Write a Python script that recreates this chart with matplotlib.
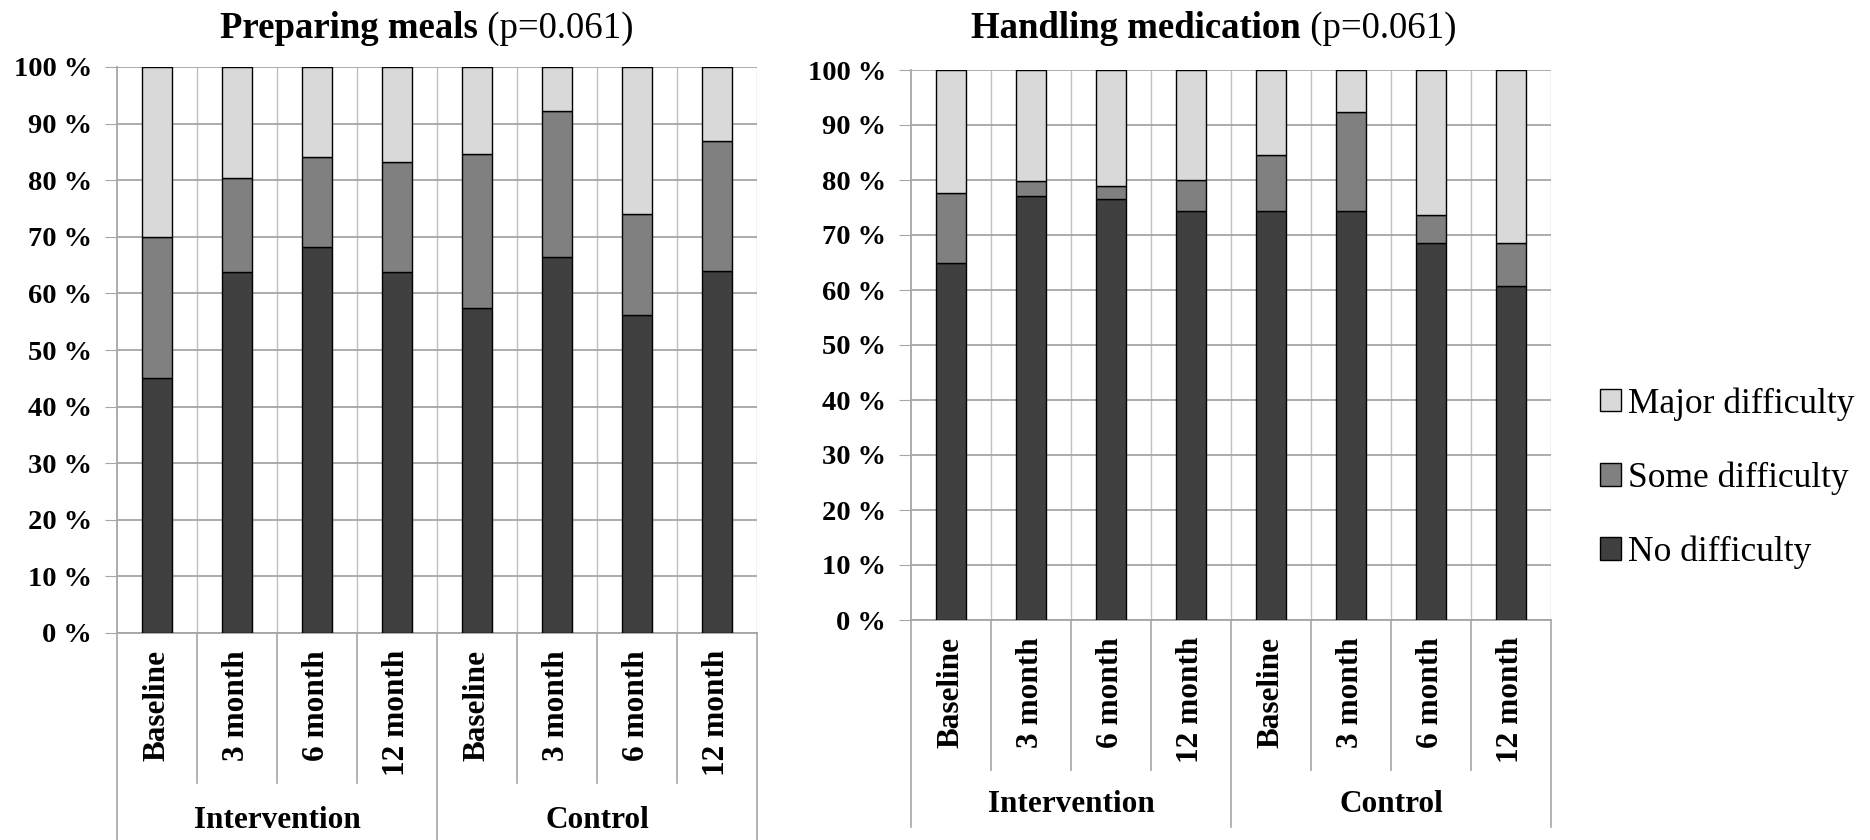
import numpy as np
import matplotlib.pyplot as plt
from matplotlib.patches import Patch
from matplotlib.transforms import blended_transform_factory

W, H = 1870, 840

timepoints = ['Baseline', '3 month', '6 month', '12 month']
groups = ['Intervention', 'Control']
categories = timepoints * 2
series = ['No difficulty', 'Some difficulty', 'Major difficulty']
colors = ['#404040', '#808080', '#d9d9d9']

# Preparing meals, % per segment
meals_no = [45.0, 63.7, 68.2, 63.7, 57.4, 66.4, 56.2, 64.0]
meals_some = [25.0, 16.7, 15.9, 19.5, 27.3, 25.8, 17.9, 23.0]
meals_major = [30.0, 19.6, 15.9, 16.8, 15.3, 7.8, 25.9, 13.0]

# Handling medication, % per segment
med_no = [65.0, 77.1, 76.5, 74.4, 74.4, 74.4, 68.5, 60.7]
med_some = [12.6, 2.8, 2.5, 5.6, 10.2, 17.9, 5.1, 7.8]
med_major = [22.4, 20.1, 21.0, 20.0, 15.4, 7.7, 26.4, 31.5]

titles = [('Preparing meals', '(p=0.061)'), ('Handling medication', '(p=0.061)')]

plt.rcParams['font.family'] = ['Liberation Serif', 'DejaVu Serif']

fig = plt.figure(figsize=(W / 100, H / 100), dpi=100)


def fy(py):
    return 1 - py / H


def panel(left, top, bottom, inner_end, group_end, cat_top, group_y,
          no, some, major, title, title_x):
    ax = fig.add_axes([left / W, fy(bottom), 640 / W, (bottom - top) / H])
    x = np.arange(len(categories))
    base = np.zeros(len(categories))
    for vals, col in zip([no, some, major], colors):
        ax.bar(x, vals, width=0.38, bottom=base, color=col,
               edgecolor='black', linewidth=1.0, zorder=3)
        base = base + np.array(vals)

    ax.set_xlim(-0.5, len(categories) - 0.5)
    ax.set_ylim(0, 100)
    ax.set_yticks(np.arange(0, 101, 10))
    ax.set_yticklabels([f'{v} %' for v in range(0, 101, 10)],
                       fontsize=20.5, fontweight='bold')
    ax.tick_params(axis='y', length=9, color='#a6a6a6', pad=9)
    ax.set_xticks([])
    ax.yaxis.grid(True, color='#a6a6a6', linewidth=1.3, zorder=0)
    ax.set_axisbelow(True)
    for s in ['top', 'right']:
        ax.spines[s].set_visible(False)
    for s in ['left', 'bottom']:
        ax.spines[s].set_color('#a6a6a6')
        ax.spines[s].set_linewidth(1.3)
    ax.vlines(np.arange(0.5, len(categories), 1), 0, 100,
              color='#c0c0c0', linewidth=1.0, zorder=0)

    tr = blended_transform_factory(ax.transData, fig.transFigure)
    # separators under the axis
    for b in np.arange(-0.5, len(categories), 1):
        end = group_end if b in (-0.5, 3.5, 7.5) else inner_end
        fig.add_artist(plt.Line2D([b, b], [fy(bottom), fy(end)], transform=tr,
                                  color='#a6a6a6', linewidth=1.2))
    for i, lab in enumerate(categories):
        fig.text(i, fy(cat_top), lab, transform=tr, rotation=90,
                 ha='center', va='top', fontsize=22.5, fontweight='bold')
    for g, name in enumerate(groups):
        fig.text(g * 4 + 1.5, fy(group_y), name, transform=tr,
                 ha='center', va='center', fontsize=22.5, fontweight='bold')

    # title: bold part + regular part, centred together
    renderer = fig.canvas.get_renderer()
    t1 = fig.text(0, fy(38), title[0], fontsize=26.5, fontweight='bold',
                  va='baseline', ha='left')
    t2 = fig.text(0, fy(38), ' ' + title[1], fontsize=26.5,
                  va='baseline', ha='left')
    w1 = t1.get_window_extent(renderer).width
    w2 = t2.get_window_extent(renderer).width
    x0 = title_x - (w1 + w2) / 2
    t1.set_x(x0 / W)
    t2.set_x((x0 + w1) / W)
    return ax


panel(117, 67, 633, 783, 840, 650, 820, meals_no, meals_some, meals_major,
      titles[0], 427)
panel(911, 70, 620, 770, 827, 637, 805, med_no, med_some, med_major,
      titles[1], 1214)

handles = [Patch(facecolor=c, edgecolor='black', linewidth=1.0) for c in colors]
fig.legend(handles[::-1], series[::-1], loc='center left',
           bbox_to_anchor=(1600 / W, fy(478)), frameon=False, fontsize=25.5,
           handlelength=0.6, handleheight=0.6, handletextpad=0.2,
           labelspacing=1.15, borderpad=0, borderaxespad=0)

fig.savefig('out.png', dpi=100)
